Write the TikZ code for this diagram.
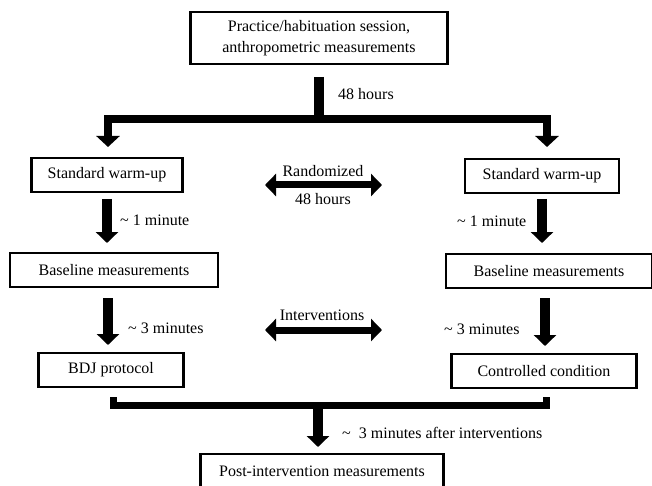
\documentclass[tikz,border=0pt]{standalone}
\usepackage{fontspec}
\setmainfont{Liberation Serif}
\usetikzlibrary{arrows.meta}

\tikzset{
  box/.style={draw, line width=2.7pt, minimum height=34pt, inner sep=0pt,
    font=\fontsize{16}{21}\selectfont},
  lbl/.style={inner sep=0pt, font=\fontsize{16}{21}\selectfont},
  fat/.style={line width=10pt, -{Triangle[width=22pt,length=11pt]}},
  bar/.style={line width=8pt},
  twoway/.style={line width=7pt, {Triangle[width=22pt,length=11pt]}-{Triangle[width=22pt,length=11pt]}}
}

\begin{document}
\begin{tikzpicture}[x=1pt,y=-1pt]
\useasboundingbox (0,0) rectangle (652,486);

% boxes
\node[box, minimum width=257pt, minimum height=52pt, align=center] (prac) at (319,38)
  {Practice/habituation session,\\anthropometric measurements};
\node[box, minimum width=151pt] (warmL) at (107,175) {Standard warm-up};
\node[box, minimum width=154pt] (warmR) at (542,176) {Standard warm-up};
\node[box, minimum width=208pt] (baseL) at (114,270) {Baseline measurements};
\node[box, minimum width=206pt] (baseR) at (549,271) {Baseline measurements};
\node[box, minimum width=145pt] (bdj) at (111,370) {BDJ protocol};
\node[box, minimum width=185pt] (ctrl) at (544,371) {Controlled condition};
\node[box, minimum width=243pt] (post) at (322,471) {Post-intervention measurements};

% labels
\node[lbl, anchor=west] (hrsTop) at (338,94) {48 hours};
\node[lbl] (rand) at (323,171) {Randomized};
\node[lbl] (hrsMid) at (323,199) {48 hours};
\node[lbl] (interv) at (322,315) {Interventions};
\node[lbl, anchor=west] (oneL) at (120,220) {\textasciitilde\ 1 minute};
\node[lbl, anchor=west] (oneR) at (457,221) {\textasciitilde\ 1 minute};
\node[lbl, anchor=west] (threeL) at (128,328) {\textasciitilde\ 3 minutes};
\node[lbl, anchor=west] (threeR) at (444,329) {\textasciitilde\ 3 minutes};
\node[lbl, anchor=west] (after) at (342,433) {\textasciitilde\ \ 3 minutes after interventions};

% connector ends
\coordinate (trunkTop) at (319,77);
\coordinate (split) at (319,123);
\coordinate (tipL) at (108,147);
\coordinate (tipR) at (547,147);
\coordinate (a1L) at (107,199); \coordinate (b1L) at (107,243);
\coordinate (a1R) at (542,199); \coordinate (b1R) at (542,243);
\coordinate (a2L) at (108,298); \coordinate (b2L) at (108,345);
\coordinate (a2R) at (545,298); \coordinate (b2R) at (545,346);
\coordinate (joinL) at (113,397);
\coordinate (joinR) at (546,397);
\coordinate (merge) at (318,405);
\coordinate (tipPost) at (318,447);

% top split
\draw[line width=10pt] (trunkTop) -- (split);
\draw[bar, miter limit=10, {Triangle[width=23pt,length=11pt]}-{Triangle[width=23pt,length=11pt]}]
  (tipL) |- (319,119) -| (tipR);

% steps
\draw[fat] (a1L) -- (b1L);
\draw[fat] (a1R) -- (b1R);
\draw[fat] (a2L) -- (b2L);
\draw[fat] (a2R) -- (b2R);

% cross-over arrows
\draw[twoway] (265,185) -- (382,185);
\draw[twoway] (265,330) -- (382,330);

% merge
\draw[bar, line width=7pt] (joinL) |- (merge) -| (joinR);
\draw[fat] (merge) -- (tipPost);
\end{tikzpicture}
\end{document}
